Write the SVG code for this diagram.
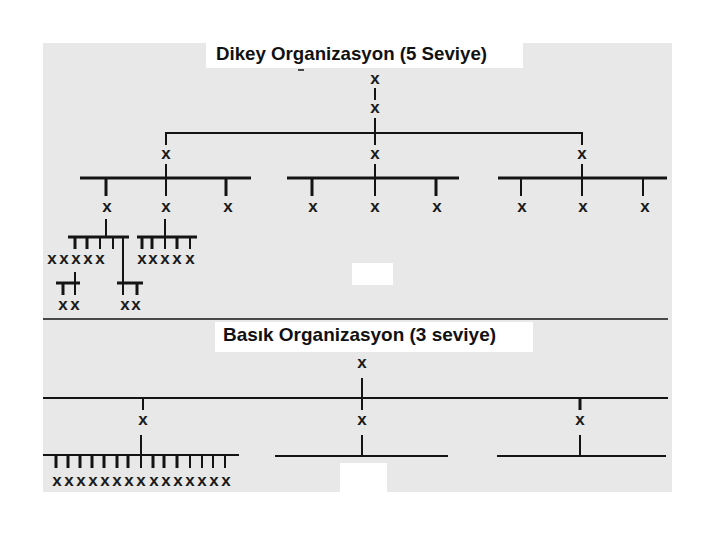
<svg xmlns="http://www.w3.org/2000/svg" width="720" height="540" viewBox="0 0 720 540">
<style>
.bg{fill:#e8e8e8}
.wh{fill:#ffffff}
.title{font-family:"Liberation Sans",Arial,sans-serif;font-weight:bold;font-size:19px;fill:#111}
.x{font-family:"Liberation Sans",Arial,sans-serif;font-weight:bold;font-size:17px;fill:#1a1a1a;text-anchor:middle}
.c line{stroke:#141414;stroke-linecap:butt}
.t1{stroke-width:1.5}
.t2{stroke-width:2}
.t3{stroke-width:3}
</style>
<rect x="0" y="0" width="720" height="540" class="wh"/>
<rect x="43" y="43" width="629" height="449" class="bg"/>
<rect x="206" y="43" width="317" height="25" class="wh"/>
<rect x="215" y="322" width="318" height="30" class="wh"/>
<rect x="352" y="263" width="41" height="22" class="wh"/>
<rect x="340" y="463" width="47" height="29" class="wh"/>

<text class="title" x="216" y="60" textLength="271" lengthAdjust="spacingAndGlyphs">Dikey Organizasyon (5 Seviye)</text>
<text class="title" x="223" y="341" textLength="273" lengthAdjust="spacingAndGlyphs">Basık Organizasyon (3 seviye)</text>

<g id="connectors" class="c">
  <line class="t1" x1="298" y1="70" x2="304" y2="70"/>
  <!-- tall organization -->
  <line class="t2" x1="375" y1="88" x2="375" y2="100"/>
  <line class="t2" x1="375" y1="118" x2="375" y2="145"/>
  <line class="t2" x1="166" y1="133" x2="582" y2="133"/>
  <line class="t2" x1="166" y1="132" x2="166" y2="145"/>
  <line class="t2" x1="582" y1="132" x2="582" y2="145"/>
  <line class="t2" x1="166" y1="164" x2="166" y2="196"/>
  <line class="t2" x1="375" y1="164" x2="375" y2="196"/>
  <line class="t2" x1="582" y1="164" x2="582" y2="196"/>
  <line class="t3" x1="80" y1="178" x2="251" y2="178"/>
  <line class="t3" x1="287" y1="178" x2="459" y2="178"/>
  <line class="t3" x1="498" y1="178" x2="667" y2="178"/>
  <line class="t3" x1="106" y1="178" x2="106" y2="196"/>
  <line class="t3" x1="226" y1="178" x2="226" y2="196"/>
  <line class="t3" x1="312" y1="178" x2="312" y2="196"/>
  <line class="t3" x1="436" y1="178" x2="436" y2="196"/>
  <line class="t2" x1="521" y1="178" x2="521" y2="196"/>
  <line class="t2" x1="643" y1="178" x2="643" y2="196"/>
  <line class="t2" x1="106" y1="219" x2="106" y2="237"/>
  <line class="t3" x1="68" y1="237" x2="129" y2="237"/>
  <line class="t3" x1="75" y1="237" x2="75" y2="249"/>
  <line class="t3" x1="87" y1="237" x2="87" y2="249"/>
  <line class="t2" x1="100" y1="237" x2="100" y2="249"/>
  <line class="t2" x1="113" y1="237" x2="113" y2="249"/>
  <line class="t2" x1="123" y1="237" x2="123" y2="295"/>
  <line class="t3" x1="117" y1="283" x2="143" y2="283"/>
  <line class="t3" x1="137" y1="283" x2="137" y2="295"/>
  <line class="t2" x1="75" y1="272" x2="75" y2="295"/>
  <line class="t3" x1="56" y1="283" x2="80" y2="283"/>
  <line class="t3" x1="63" y1="283" x2="63" y2="295"/>
  <line class="t2" x1="165" y1="219" x2="165" y2="249"/>
  <line class="t3" x1="137" y1="237" x2="197" y2="237"/>
  <line class="t3" x1="142" y1="237" x2="142" y2="249"/>
  <line class="t3" x1="152" y1="237" x2="152" y2="249"/>
  <line class="t3" x1="177" y1="237" x2="177" y2="249"/>
  <line class="t2" x1="190" y1="237" x2="190" y2="249"/>
  <!-- separator -->
  <line class="t1" x1="43" y1="319" x2="668" y2="319"/>
  <!-- flat organization -->
  <line class="t2" x1="362" y1="378" x2="362" y2="410"/>
  <line class="t2" x1="43" y1="398" x2="668" y2="398"/>
  <line class="t2" x1="143" y1="398" x2="143" y2="410"/>
  <line class="t3" x1="580" y1="398" x2="580" y2="410"/>
  <line class="t2" x1="141" y1="435" x2="141" y2="468"/>
  <line class="t2" x1="362" y1="435" x2="362" y2="456"/>
  <line class="t2" x1="580" y1="435" x2="580" y2="456"/>
  <line class="t2" x1="43" y1="455" x2="239" y2="455"/>
  <line class="t2" x1="275" y1="456" x2="448" y2="456"/>
  <line class="t2" x1="497" y1="456" x2="666" y2="456"/>
  <line class="t3" x1="56" y1="455" x2="56" y2="468"/>
  <line class="t3" x1="68" y1="455" x2="68" y2="468"/>
  <line class="t3" x1="80" y1="455" x2="80" y2="468"/>
  <line class="t3" x1="92" y1="455" x2="92" y2="468"/>
  <line class="t3" x1="104" y1="455" x2="104" y2="468"/>
  <line class="t3" x1="117" y1="455" x2="117" y2="468"/>
  <line class="t3" x1="128" y1="455" x2="128" y2="468"/>
  <line class="t3" x1="153" y1="455" x2="153" y2="468"/>
  <line class="t3" x1="164" y1="455" x2="164" y2="468"/>
  <line class="t3" x1="177" y1="455" x2="177" y2="468"/>
  <line class="t2" x1="190" y1="455" x2="190" y2="468"/>
  <line class="t2" x1="202" y1="455" x2="202" y2="468"/>
  <line class="t2" x1="213" y1="455" x2="213" y2="468"/>
  <line class="t2" x1="225" y1="455" x2="225" y2="468"/>
</g>

<!-- tall organization nodes -->
<g id="t-l1"><text class="x" x="375" y="84">x</text></g>
<g id="t-l2"><text class="x" x="375" y="113">x</text></g>
<g id="t-l3a"><text class="x" x="166" y="159">x</text></g>
<g id="t-l3b"><text class="x" x="375" y="159">x</text></g>
<g id="t-l3c"><text class="x" x="582" y="159">x</text></g>
<g id="t-l4a1"><text class="x" x="107" y="212">x</text></g>
<g id="t-l4a2"><text class="x" x="166" y="212">x</text></g>
<g id="t-l4a3"><text class="x" x="228" y="212">x</text></g>
<g id="t-l4b1"><text class="x" x="313" y="212">x</text></g>
<g id="t-l4b2"><text class="x" x="375" y="212">x</text></g>
<g id="t-l4b3"><text class="x" x="437" y="212">x</text></g>
<g id="t-l4c1"><text class="x" x="522" y="212">x</text></g>
<g id="t-l4c2"><text class="x" x="583" y="212">x</text></g>
<g id="t-l4c3"><text class="x" x="645" y="212">x</text></g>
<g id="t-l5a">
  <text class="x" x="52" y="264">x</text><text class="x" x="64" y="264">x</text><text class="x" x="76" y="264">x</text><text class="x" x="88" y="264">x</text><text class="x" x="100" y="264">x</text>
</g>
<g id="t-l5b">
  <text class="x" x="142" y="264">x</text><text class="x" x="153" y="264">x</text><text class="x" x="165" y="264">x</text><text class="x" x="177" y="264">x</text><text class="x" x="190" y="264">x</text>
</g>
<g id="t-l6a"><text class="x" x="63" y="310">x</text><text class="x" x="75" y="310">x</text></g>
<g id="t-l6b"><text class="x" x="125" y="310">x</text><text class="x" x="136" y="310">x</text></g>

<!-- flat organization nodes -->
<g id="f-l1"><text class="x" x="362" y="368">x</text></g>
<g id="f-l2a"><text class="x" x="143" y="425">x</text></g>
<g id="f-l2b"><text class="x" x="362" y="425">x</text></g>
<g id="f-l2c"><text class="x" x="580" y="425">x</text></g>
<g id="f-l3a">
  <text class="x" x="57" y="486">x</text><text class="x" x="69" y="486">x</text><text class="x" x="81" y="486">x</text><text class="x" x="93" y="486">x</text><text class="x" x="105" y="486">x</text><text class="x" x="117" y="486">x</text><text class="x" x="129" y="486">x</text><text class="x" x="141" y="486">x</text><text class="x" x="154" y="486">x</text><text class="x" x="166" y="486">x</text><text class="x" x="178" y="486">x</text><text class="x" x="190" y="486">x</text><text class="x" x="202" y="486">x</text><text class="x" x="214" y="486">x</text><text class="x" x="226" y="486">x</text>
</g>
</svg>
